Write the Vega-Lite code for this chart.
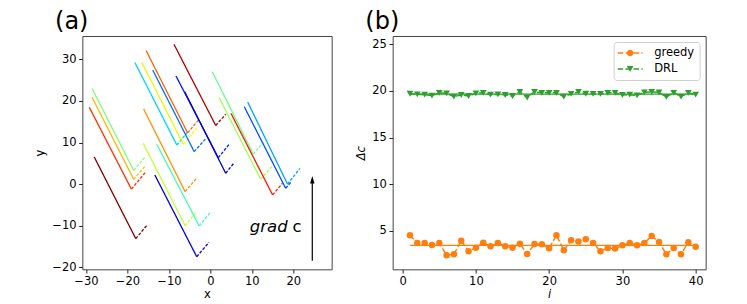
{
  "$schema": "https://vega.github.io/schema/vega-lite/v6.json",
  "autosize": {"type": "none"},
  "padding": {"left": 82.33, "top": 36, "right": 664.67, "bottom": 268},
  "background": "white",
  "config": {
    "font": "DejaVu Sans",
    "view": {"stroke": "#444", "strokeWidth": 1},
    "axis": {"grid": false, "domain": false, "tickColor": "#222", "tickSize": 3.7, "tickWidth": 1, "labelFont": "DejaVu Sans", "labelFontSize": 11.5, "labelColor": "#000", "titleFont": "DejaVu Sans", "titleFontSize": 11.5, "titleFontWeight": "normal", "titleColor": "#000", "labelFlush": false, "labelOverlap": false},
    "axisX": {"labelBaseline": "alphabetic", "labelPadding": 11, "titleBaseline": "alphabetic", "titlePadding": 11},
    "axisY": {"labelPadding": 2.6, "titleBaseline": "alphabetic", "titlePadding": 8.4}
  },
  "datasets": {
    "traj": [
      {"t":"T1","s":"solid","o":0,"x":-28.0,"y":6.5},{"t":"T1","s":"solid","o":1,"x":-18.0,"y":-13.1},{"t":"T1","s":"dash","o":0,"x":-18.0,"y":-13.1},{"t":"T1","s":"dash","o":1,"x":-15.4,"y":-10.0},
      {"t":"T2","s":"solid","o":0,"x":-29.2,"y":18.46},{"t":"T2","s":"solid","o":1,"x":-19.05,"y":-1.2},{"t":"T2","s":"dash","o":0,"x":-19.05,"y":-1.2},{"t":"T2","s":"dash","o":1,"x":-15.7,"y":2.8},
      {"t":"T3","s":"solid","o":0,"x":-28.55,"y":20.9},{"t":"T3","s":"solid","o":1,"x":-18.5,"y":1.15},{"t":"T3","s":"dash","o":0,"x":-18.5,"y":1.15},{"t":"T3","s":"dash","o":1,"x":-15.7,"y":4.4},
      {"t":"T4","s":"solid","o":0,"x":-28.55,"y":23.0},{"t":"T4","s":"solid","o":1,"x":-18.5,"y":3.3},{"t":"T4","s":"dash","o":0,"x":-18.5,"y":3.3},{"t":"T4","s":"dash","o":1,"x":-15.7,"y":6.6},
      {"t":"T5","s":"solid","o":0,"x":-13.4,"y":2.2},{"t":"T5","s":"solid","o":1,"x":-3.3,"y":-17.45},{"t":"T5","s":"dash","o":0,"x":-3.3,"y":-17.45},{"t":"T5","s":"dash","o":1,"x":-0.35,"y":-14.0},
      {"t":"T6","s":"solid","o":0,"x":-16.2,"y":9.8},{"t":"T6","s":"solid","o":1,"x":-6.1,"y":-10.0},{"t":"T6","s":"dash","o":0,"x":-6.1,"y":-10.0},{"t":"T6","s":"dash","o":1,"x":-3.3,"y":-6.5},
      {"t":"T7","s":"solid","o":0,"x":-12.95,"y":9.6},{"t":"T7","s":"solid","o":1,"x":-2.7,"y":-10.05},{"t":"T7","s":"dash","o":0,"x":-2.7,"y":-10.05},{"t":"T7","s":"dash","o":1,"x":0.05,"y":-6.7},
      {"t":"T8","s":"solid","o":0,"x":-16.1,"y":18.05},{"t":"T8","s":"solid","o":1,"x":-6.1,"y":-1.8},{"t":"T8","s":"dash","o":0,"x":-6.1,"y":-1.8},{"t":"T8","s":"dash","o":1,"x":-3.15,"y":1.6},
      {"t":"T9","s":"solid","o":0,"x":-18.2,"y":29.2},{"t":"T9","s":"solid","o":1,"x":-8.1,"y":9.4},{"t":"T9","s":"dash","o":0,"x":-8.1,"y":9.4},{"t":"T9","s":"dash","o":1,"x":-5.3,"y":12.7},
      {"t":"T10","s":"solid","o":0,"x":-16.57,"y":29.3},{"t":"T10","s":"solid","o":1,"x":-6.54,"y":9.6},{"t":"T10","s":"dash","o":0,"x":-6.54,"y":9.6},{"t":"T10","s":"dash","o":1,"x":-3.3,"y":13.4},
      {"t":"T11","s":"solid","o":0,"x":-15.5,"y":32.1},{"t":"T11","s":"solid","o":1,"x":-5.48,"y":12.3},{"t":"T11","s":"dash","o":0,"x":-5.48,"y":12.3},{"t":"T11","s":"dash","o":1,"x":-2.9,"y":15.4},
      {"t":"T12","s":"solid","o":0,"x":-13.9,"y":27.4},{"t":"T12","s":"solid","o":1,"x":-3.9,"y":7.8},{"t":"T12","s":"dash","o":0,"x":-3.9,"y":7.8},{"t":"T12","s":"dash","o":1,"x":-1.06,"y":11.0},
      {"t":"T13","s":"solid","o":0,"x":-8.78,"y":33.6},{"t":"T13","s":"solid","o":1,"x":1.28,"y":14.1},{"t":"T13","s":"dash","o":0,"x":1.28,"y":14.1},{"t":"T13","s":"dash","o":1,"x":3.7,"y":16.8},
      {"t":"T14","s":"solid","o":0,"x":-8.3,"y":26.0},{"t":"T14","s":"solid","o":1,"x":1.9,"y":6.35},{"t":"T14","s":"dash","o":0,"x":1.9,"y":6.35},{"t":"T14","s":"dash","o":1,"x":4.7,"y":9.8},
      {"t":"T15","s":"solid","o":0,"x":-6.2,"y":22.2},{"t":"T15","s":"solid","o":1,"x":3.7,"y":2.6},{"t":"T15","s":"dash","o":0,"x":3.7,"y":2.6},{"t":"T15","s":"dash","o":1,"x":5.7,"y":5.1},
      {"t":"T16","s":"solid","o":0,"x":0.46,"y":27.0},{"t":"T16","s":"solid","o":1,"x":10.35,"y":7.2},{"t":"T16","s":"dash","o":0,"x":10.35,"y":7.2},{"t":"T16","s":"dash","o":1,"x":12.75,"y":10.05},
      {"t":"T17","s":"solid","o":0,"x":2.07,"y":20.87},{"t":"T17","s":"solid","o":1,"x":12.1,"y":1.2},{"t":"T17","s":"dash","o":0,"x":12.1,"y":1.2},{"t":"T17","s":"dash","o":1,"x":14.8,"y":4.2},
      {"t":"T18","s":"solid","o":0,"x":4.97,"y":17.0},{"t":"T18","s":"solid","o":1,"x":15.0,"y":-2.6},{"t":"T18","s":"dash","o":0,"x":15.0,"y":-2.6},{"t":"T18","s":"dash","o":1,"x":17.4,"y":0.2},
      {"t":"T19","s":"solid","o":0,"x":8.17,"y":18.6},{"t":"T19","s":"solid","o":1,"x":18.15,"y":-1.0},{"t":"T19","s":"dash","o":0,"x":18.15,"y":-1.0},{"t":"T19","s":"dash","o":1,"x":19.6,"y":0.7},
      {"t":"T20","s":"solid","o":0,"x":9.0,"y":19.7},{"t":"T20","s":"solid","o":1,"x":18.6,"y":0.0},{"t":"T20","s":"dash","o":0,"x":18.6,"y":0.0},{"t":"T20","s":"dash","o":1,"x":21.6,"y":3.8}
    ],
    "pts": [
      {"series":"greedy","i":1,"v":4.54},{"series":"greedy","i":2,"v":3.71},{"series":"greedy","i":3,"v":3.71},{"series":"greedy","i":4,"v":3.5},{"series":"greedy","i":5,"v":3.71},
      {"series":"greedy","i":6,"v":2.39},{"series":"greedy","i":7,"v":2.5},{"series":"greedy","i":8,"v":3.96},{"series":"greedy","i":9,"v":2.82},{"series":"greedy","i":10,"v":3.21},
      {"series":"greedy","i":11,"v":3.75},{"series":"greedy","i":12,"v":3.36},{"series":"greedy","i":13,"v":3.71},{"series":"greedy","i":14,"v":3.36},{"series":"greedy","i":15,"v":3.21},
      {"series":"greedy","i":16,"v":3.64},{"series":"greedy","i":17,"v":2.54},{"series":"greedy","i":18,"v":3.61},{"series":"greedy","i":19,"v":3.57},{"series":"greedy","i":20,"v":3.14},
      {"series":"greedy","i":21,"v":4.54},{"series":"greedy","i":22,"v":2.93},{"series":"greedy","i":23,"v":4.0},{"series":"greedy","i":24,"v":3.86},{"series":"greedy","i":25,"v":4.11},
      {"series":"greedy","i":26,"v":3.71},{"series":"greedy","i":27,"v":2.82},{"series":"greedy","i":28,"v":3.18},{"series":"greedy","i":29,"v":3.11},{"series":"greedy","i":30,"v":3.46},
      {"series":"greedy","i":31,"v":3.71},{"series":"greedy","i":32,"v":3.46},{"series":"greedy","i":33,"v":3.71},{"series":"greedy","i":34,"v":4.46},{"series":"greedy","i":35,"v":3.82},
      {"series":"greedy","i":36,"v":2.5},{"series":"greedy","i":37,"v":3.18},{"series":"greedy","i":38,"v":2.5},{"series":"greedy","i":39,"v":3.79},{"series":"greedy","i":40,"v":3.32},
      {"series":"DRL","i":1,"v":19.7},{"series":"DRL","i":2,"v":19.64},{"series":"DRL","i":3,"v":19.6},{"series":"DRL","i":4,"v":19.5},{"series":"DRL","i":5,"v":19.8},
      {"series":"DRL","i":6,"v":19.75},{"series":"DRL","i":7,"v":19.4},{"series":"DRL","i":8,"v":19.57},{"series":"DRL","i":9,"v":19.46},{"series":"DRL","i":10,"v":19.75},
      {"series":"DRL","i":11,"v":19.8},{"series":"DRL","i":12,"v":19.6},{"series":"DRL","i":13,"v":19.64},{"series":"DRL","i":14,"v":19.57},{"series":"DRL","i":15,"v":19.46},
      {"series":"DRL","i":16,"v":19.9},{"series":"DRL","i":17,"v":19.3},{"series":"DRL","i":18,"v":19.9},{"series":"DRL","i":19,"v":19.8},{"series":"DRL","i":20,"v":19.8},
      {"series":"DRL","i":21,"v":19.8},{"series":"DRL","i":22,"v":19.4},{"series":"DRL","i":23,"v":19.68},{"series":"DRL","i":24,"v":19.9},{"series":"DRL","i":25,"v":19.7},
      {"series":"DRL","i":26,"v":19.68},{"series":"DRL","i":27,"v":19.68},{"series":"DRL","i":28,"v":19.8},{"series":"DRL","i":29,"v":19.8},{"series":"DRL","i":30,"v":19.57},
      {"series":"DRL","i":31,"v":19.6},{"series":"DRL","i":32,"v":19.53},{"series":"DRL","i":33,"v":19.85},{"series":"DRL","i":34,"v":19.9},{"series":"DRL","i":35,"v":19.85},
      {"series":"DRL","i":36,"v":19.36},{"series":"DRL","i":37,"v":19.8},{"series":"DRL","i":38,"v":19.4},{"series":"DRL","i":39,"v":19.8},{"series":"DRL","i":40,"v":19.6}
    ],
    "means": [
      {"series":"greedy","i":1,"i2":40,"v":3.46},
      {"series":"DRL","i":1,"i2":40,"v":19.66}
    ]
  },
  "spacing": 60.33,
  "bounds": "flush",
  "resolve": {"scale": {"color": "independent", "strokeDash": "independent", "shape": "independent", "x": "independent", "y": "independent"}, "legend": {"color": "independent"}},
  "hconcat": [
    {
      "width": 249.33,
      "height": 233.33,
      "title": {"text": "(a)", "anchor": "start", "frame": "group", "fontSize": 24, "fontWeight": "normal", "font": "DejaVu Sans", "baseline": "alphabetic", "offset": 8.7, "dx": -27.3, "dy": 25.5, "color": "#000"},
      "layer": [
        {
          "data": {"name": "traj"},
          "mark": {"type": "line", "strokeWidth": 1.3},
          "encoding": {
            "x": {"field": "x", "type": "quantitative", "scale": {"domain": [-30.88, 29.24], "nice": false, "zero": false}, "axis": {"values": [-30, -20, -10, 0, 10, 20], "title": "x"}},
            "y": {"field": "y", "type": "quantitative", "scale": {"domain": [-20.48, 35.6], "nice": false, "zero": false}, "axis": {"values": [-20, -10, 0, 10, 20, 30], "title": "y"}},
            "color": {"field": "t", "type": "nominal", "legend": null, "scale": {"domain": ["T1","T2","T3","T4","T5","T6","T7","T8","T9","T10","T11","T12","T13","T14","T15","T16","T17","T18","T19","T20"], "range": ["#800000","#ff3000","#ffb800","#80ff77","#0000f5","#c4ff33","#40ffb7","#ff9000","#00d4ff","#f0f800","#ff6400","#0070ff","#b20000","#0018ff","#0000d8","#6aff8d","#a4ff53","#ff1800","#0050ff","#00a4ff"]}},
            "strokeDash": {"field": "s", "type": "nominal", "legend": null, "scale": {"domain": ["solid", "dash"], "range": [[1, 0], [3, 1.6]]}},
            "order": {"field": "o", "type": "quantitative"}
          }
        },
        {
          "data": {"values": [{"x": 24.57, "y": -18.4, "y2": 1.2}]},
          "mark": {"type": "rule", "color": "black", "strokeWidth": 1.2},
          "encoding": {
            "x": {"field": "x", "type": "quantitative"},
            "y": {"field": "y", "type": "quantitative"},
            "y2": {"field": "y2"}
          }
        },
        {
          "data": {"values": [{"x": 24.57, "y": 0.99}]},
          "mark": {"type": "point", "filled": true, "color": "black", "opacity": 1, "shape": "M0,-1L-0.55,0.9L0.55,0.9Z", "size": 64},
          "encoding": {
            "x": {"field": "x", "type": "quantitative"},
            "y": {"field": "y", "type": "quantitative"}
          }
        },
        {
          "data": {"values": [{"x": 9.5, "y": -11.58, "t": "grad"}]},
          "mark": {"type": "text", "fontStyle": "italic", "fontSize": 16.5, "align": "left", "baseline": "alphabetic", "font": "DejaVu Sans", "color": "black"},
          "encoding": {
            "x": {"field": "x", "type": "quantitative"},
            "y": {"field": "y", "type": "quantitative"},
            "text": {"field": "t"}
          }
        },
        {
          "data": {"values": [{"x": 19.8, "y": -11.58, "t": "c"}]},
          "mark": {"type": "text", "fontSize": 16.5, "align": "left", "baseline": "alphabetic", "font": "DejaVu Sans", "color": "black"},
          "encoding": {
            "x": {"field": "x", "type": "quantitative"},
            "y": {"field": "y", "type": "quantitative"},
            "text": {"field": "t"}
          }
        }
      ]
    },
    {
      "width": 313,
      "height": 233.33,
      "title": {"text": "(b)", "anchor": "start", "frame": "group", "fontSize": 24, "fontWeight": "normal", "font": "DejaVu Sans", "baseline": "alphabetic", "offset": 8.7, "dx": -27.3, "dy": 25.5, "color": "#000"},
      "layer": [
        {
          "data": {"name": "pts"},
          "mark": {"type": "point", "filled": true, "opacity": 0, "size": 144},
          "encoding": {
            "x": {"field": "i", "type": "quantitative", "scale": {"domain": [-1.365, 41.365], "nice": false, "zero": false}, "axis": {"values": [0, 10, 20, 30, 40], "title": "i", "titleFontStyle": "italic"}},
            "y": {"field": "v", "type": "quantitative", "scale": {"domain": [0.89, 25.89], "nice": false, "zero": false}, "axis": {"values": [5, 10, 15, 20, 25], "title": "Δc", "titleFontStyle": "italic", "titlePadding": 7}},
            "shape": {"field": "series", "type": "nominal", "scale": {"domain": ["greedy", "DRL"], "range": ["M-2.083,-0.125H-1.167V0.125H-2.083ZM-0.767,-0.125H0.167V0.125H-0.767ZM0.567,-0.125H1.483V0.125H0.567ZM1.883,-0.125H2.083V0.125H1.883ZM0.55,0A0.55,0.55,0,1,1,-0.55,0A0.55,0.55,0,1,1,0.55,0Z", "M-2.083,-0.125H-1.167V0.125H-2.083ZM-0.767,-0.125H0.167V0.125H-0.767ZM0.567,-0.125H1.483V0.125H0.567ZM1.883,-0.125H2.083V0.125H1.883ZM-0.55,-0.48L0.55,-0.48L0,0.48Z"]}, "legend": {"orient": "top-right", "offset": 6, "title": null, "symbolOpacity": 1}},
            "color": {
              "field": "series", "type": "nominal",
              "scale": {"domain": ["greedy", "DRL"], "range": ["#ff7f0e", "#2ca02c"]},
              "legend": {
                "orient": "top-right", "offset": 6, "title": null,
                "symbolSize": 144, "symbolStrokeWidth": 0, "symbolOffset": 5.5, "symbolOpacity": 1,
                "labelOffset": 18, "labelFontSize": 11.5, "labelFont": "DejaVu Sans", "labelColor": "#000",
                "fillColor": "white", "strokeColor": "#d0d0d0", "cornerRadius": 3, "padding": 5, "rowPadding": 4
              }
            }
          }
        },
        {
          "data": {"name": "pts"},
          "mark": {"type": "line", "strokeWidth": 1.5, "strokeDash": [5.5, 2.4]},
          "encoding": {
            "x": {"field": "i", "type": "quantitative"},
            "y": {"field": "v", "type": "quantitative"},
            "color": {"field": "series", "type": "nominal"}
          }
        },
        {
          "data": {"name": "means"},
          "mark": {"type": "rule", "strokeWidth": 1.3},
          "encoding": {
            "x": {"field": "i", "type": "quantitative"},
            "x2": {"field": "i2"},
            "y": {"field": "v", "type": "quantitative"},
            "color": {"field": "series", "type": "nominal"}
          }
        },
        {
          "data": {"name": "pts"},
          "transform": [{"filter": "datum.series === 'greedy'"}],
          "mark": {"type": "point", "filled": true, "opacity": 1, "size": 42, "shape": "circle"},
          "encoding": {
            "x": {"field": "i", "type": "quantitative"},
            "y": {"field": "v", "type": "quantitative"},
            "color": {"field": "series", "type": "nominal"}
          }
        },
        {
          "data": {"name": "pts"},
          "transform": [{"filter": "datum.series === 'DRL'"}],
          "mark": {"type": "point", "filled": true, "opacity": 1, "size": 45, "shape": "triangle-down"},
          "encoding": {
            "x": {"field": "i", "type": "quantitative"},
            "y": {"field": "v", "type": "quantitative"},
            "color": {"field": "series", "type": "nominal"}
          }
        }
      ]
    }
  ]
}
